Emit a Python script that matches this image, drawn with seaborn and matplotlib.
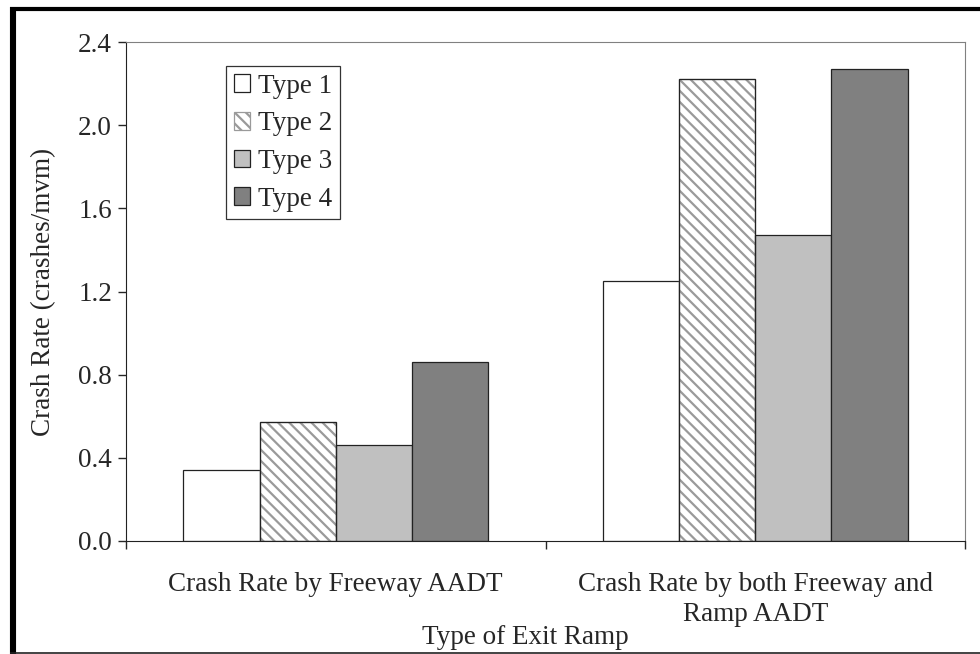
import pandas as pd
import seaborn as sns
import matplotlib.pyplot as plt
from matplotlib.lines import Line2D
from matplotlib.patches import Rectangle
from matplotlib.ticker import FormatStrFormatter

# Données
groups = ['Crash Rate by Freeway AADT', 'Crash Rate by both Freeway and\nRamp AADT']
ramp_types = ['Type 1', 'Type 2', 'Type 3', 'Type 4']
freeway_rate = [0.34, 0.57, 0.46, 0.86]
both_rate = [1.25, 2.22, 1.47, 2.27]
colors = ['#FFFFFF', '#FFFFFF', '#C0C0C0', '#808080']
y_ticks = [0.0, 0.4, 0.8, 1.2, 1.6, 2.0, 2.4]

df = pd.DataFrame({
    'group': [groups[0]] * 4 + [groups[1]] * 4,
    'type': ramp_types * 2,
    'rate': freeway_rate + both_rate,
})

sns.set_style('ticks')
plt.rcParams['font.family'] = ['Liberation Serif', 'DejaVu Serif']
plt.rcParams['hatch.linewidth'] = 1.6
fs = 19.5

fig = plt.figure(figsize=(9.8, 6.54), dpi=100)
ax = fig.add_axes([126 / 980, 1 - 541 / 654, 839 / 980, 499 / 654])

sns.barplot(data=df, x='group', y='rate', hue='type', order=groups,
            hue_order=ramp_types, palette=colors, saturation=1,
            width=0.727, gap=0, edgecolor='#222222', linewidth=0.9,
            errorbar=None, legend=False, ax=ax)

# hachures grises pour Type 2
for bar in ax.containers[1]:
    bar.set_hatch('\\\\\\')
    bar.set_edgecolor('#9a9a9a')
    ax.add_patch(Rectangle(bar.get_xy(), bar.get_width(), bar.get_height(),
                           fill=False, edgecolor='#222222', lw=0.9, zorder=3))

ax.set_ylim(0, 2.4)
ax.set_yticks(y_ticks)
ax.yaxis.set_major_formatter(FormatStrFormatter('%.1f'))
ax.set_xlim(-0.5, 1.5)
ax.set_xticks([-0.5, 0.5, 1.5], minor=True)
ax.tick_params(axis='x', which='major', length=0, pad=22, labelsize=fs)
ax.tick_params(axis='x', which='minor', length=6, width=1, direction='out')
ax.tick_params(axis='y', length=6, width=1, direction='out', labelsize=fs, pad=4)
for lab in ax.get_xticklabels():
    lab.set_linespacing(1.3)

for s in ['top', 'right']:
    ax.spines[s].set_color('#808080')
for s in ['left', 'bottom']:
    ax.spines[s].set_color('#222222')

ax.set_ylabel('Crash Rate (crashes/mvm)', fontsize=fs)
ax.yaxis.set_label_coords(-0.083, 0.5)
ax.set_xlabel('Type of Exit Ramp', fontsize=fs)
ax.xaxis.set_label_coords(0.4756, -0.168)

leg = ax.legend(ax.containers, ramp_types, loc='upper left',
                bbox_to_anchor=(100 / 839, (541 - 66) / 499), borderaxespad=0,
                fontsize=fs, frameon=True, fancybox=False, edgecolor='black',
                handlelength=0.62, handleheight=0.62, handletextpad=0.3,
                labelspacing=0.47, borderpad=0.28)
leg.get_frame().set_linewidth(0.9)

# cadre noir autour de la figure
fig.add_artist(Line2D([13 / 980, 13 / 980], [1 - 7 / 654, 0], color='black',
                      lw=4.4, solid_capstyle='butt'))
fig.add_artist(Line2D([10 / 980, 1], [1 - 9 / 654, 1 - 9 / 654], color='black',
                      lw=3, solid_capstyle='butt'))
fig.add_artist(Line2D([10 / 980, 1], [1 - 653 / 654, 1 - 653 / 654], color='#222222',
                      lw=1.2, solid_capstyle='butt'))

fig.savefig('out.png', dpi=100)
